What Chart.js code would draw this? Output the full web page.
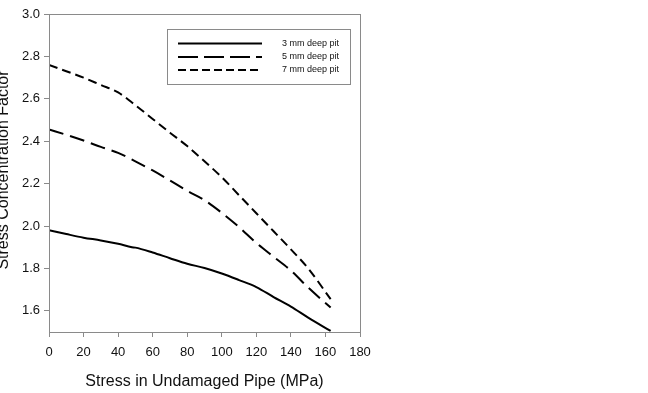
<!DOCTYPE html>
<html>
<head>
<meta charset="utf-8">
<script src="https://cdn.jsdelivr.net/npm/chart.js@4/dist/chart.umd.min.js"></script>
<style>
html,body{margin:0;padding:0;background:#fff;}
#wrap{width:648px;height:393px;position:relative;}
</style>
</head>
<body>
<div id="wrap"><canvas id="c" width="648" height="393"></canvas></div>
<script>
// ---- data ----
const xTitle = "Stress in Undamaged Pipe (MPa)";
const yTitle = "Stress Concentration Factor";
const seriesLabels = ["3 mm deep pit", "5 mm deep pit", "7 mm deep pit"];

const x3 = [0,10,20,30,40,48,50,60,70,80,90,100,110,120,130,140,150,163];
const y3 = [1.98,1.962,1.945,1.932,1.916,1.900,1.898,1.875,1.848,1.822,1.802,1.776,1.745,1.712,1.665,1.620,1.568,1.505];

const x5 = [0,10,20,30,40,50,60,70,80,90,100,110,120,130,140,150,163];
const y5 = [2.455,2.43,2.403,2.373,2.345,2.305,2.262,2.215,2.166,2.122,2.062,1.995,1.92,1.855,1.79,1.71,1.615];

const x7 = [0,10,20,30,40,50,60,70,80,90,100,110,120,130,140,150,163];
const y7 = [2.76,2.73,2.70,2.665,2.63,2.57,2.505,2.44,2.377,2.305,2.23,2.145,2.06,1.975,1.89,1.80,1.655];

const xTicks = [0,20,40,60,80,100,120,140,160,180];
const yTicks = [1.6,1.8,2.0,2.2,2.4,2.6,2.8,3.0];

function pts(xs, ys){ return xs.map((x,i)=>({x:x, y:ys[i]})); }

const FONT = "'Liberation Sans', Arial, sans-serif";

const framePlugin = {
  id: 'frame',
  afterDraw(chart){
    const ctx = chart.ctx, a = chart.chartArea;
    ctx.save();
    ctx.strokeStyle = '#8a8a8a';
    ctx.lineWidth = 1;
    ctx.strokeRect(Math.round(a.left)+0.5, Math.round(a.top)+0.5, Math.round(a.right-a.left), Math.round(a.bottom-a.top));
    // axis titles
    ctx.fillStyle = '#111';
    ctx.font = "16px " + FONT;
    ctx.textAlign = 'center';
    ctx.textBaseline = 'middle';
    ctx.fillText(xTitle, (a.left+a.right)/2, 382);
    ctx.save();
    ctx.translate(8, 170);
    ctx.rotate(-Math.PI/2);
    ctx.textBaseline = 'alphabetic';
    ctx.fillText(yTitle, 0, 0);
    ctx.restore();
    // legend
    const bx = 167.5, by = 29.5, bw = 183, bh = 55;
    ctx.strokeStyle = '#8a8a8a';
    ctx.strokeRect(bx, by, bw, bh);
    const rows = [43.5, 57, 70];
    ctx.font = "9px " + FONT;
    ctx.textAlign = 'left';
    chart.data.datasets.forEach((ds, i) => {
      ctx.save();
      ctx.strokeStyle = ds.borderColor;
      ctx.lineWidth = ds.borderWidth;
      ctx.setLineDash(ds.legendDash || []);
      ctx.beginPath();
      ctx.moveTo(178, rows[i]);
      ctx.lineTo(262, rows[i]);
      ctx.stroke();
      ctx.restore();
      ctx.fillStyle = '#111';
      ctx.textBaseline = 'middle';
      ctx.fillText(ds.label, 282, rows[i]);
    });
    ctx.restore();
  }
};

new Chart(document.getElementById('c'), {
  type: 'line',
  data: {
    datasets: [
      { label: seriesLabels[0], data: pts(x3,y3), borderColor:'#000', borderWidth:2, pointRadius:0, cubicInterpolationMode:'monotone', fill:false },
      { label: seriesLabels[1], data: pts(x5,y5), borderColor:'#000', borderWidth:2, pointRadius:0, cubicInterpolationMode:'monotone', fill:false, borderDash:[15,7], legendDash:[20,6] },
      { label: seriesLabels[2], data: pts(x7,y7), borderColor:'#000', borderWidth:2, pointRadius:0, cubicInterpolationMode:'monotone', fill:false, borderDash:[9,5], legendDash:[8,4] }
    ]
  },
  options: {
    responsive: false,
    animation: false,
    devicePixelRatio: 1,
    layout: { padding: { left: 0, right: 288, top: 14, bottom: 0 } },
    plugins: { legend: { display:false }, tooltip: { enabled:false } },
    scales: {
      x: {
        type: 'linear', min: 0, max: 180,
        afterBuildTicks(s){ s.ticks = xTicks.map(v=>({value:v})); },
        afterFit(s){ s.height = 61; },
        grid: { drawOnChartArea:false, drawTicks:true, tickLength:5, color:'#8a8a8a', tickColor:'#8a8a8a' },
        border: { display:true, color:'#8a8a8a' },
        ticks: { color:'#111', font:{ family: FONT, size:13 }, padding:8, maxRotation:0, autoSkip:false }
      },
      y: {
        type: 'linear', min: 1.5, max: 3.0,
        afterBuildTicks(s){ s.ticks = yTicks.map(v=>({value:v})); },
        afterFit(s){ s.width = 49; },
        grid: { drawOnChartArea:false, drawTicks:true, tickLength:5, color:'#8a8a8a', tickColor:'#8a8a8a' },
        border: { display:true, color:'#8a8a8a' },
        ticks: { color:'#111', font:{ family: FONT, size:13 }, padding:4, callback:(v)=>Number(v).toFixed(1) }
      }
    }
  },
  plugins: [framePlugin]
});
</script>
</body>
</html>
